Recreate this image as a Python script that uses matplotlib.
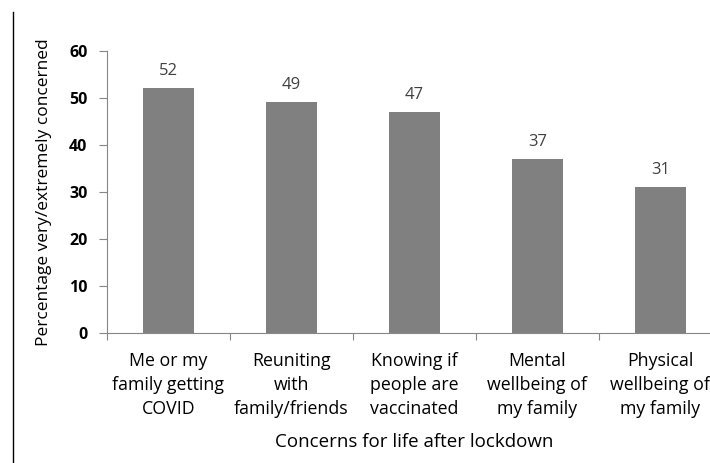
import numpy as np
import matplotlib.pyplot as plt
from matplotlib.lines import Line2D

plt.rcParams['font.family'] = ['Open Sans', 'DejaVu Sans']

# concerns and the share very/extremely concerned
categories = ["Me or my\nfamily getting\nCOVID",
              "Reuniting\nwith\nfamily/friends",
              "Knowing if\npeople are\nvaccinated",
              "Mental\nwellbeing of\nmy family",
              "Physical\nwellbeing of\nmy family"]
values = [52, 49, 47, 37, 31]
yticks = [0, 10, 20, 30, 40, 50, 60]

fig = plt.figure(figsize=(7.1, 4.63), dpi=100)
ax = fig.add_axes([0.1507, 0.2808, 0.866, 0.6097])

x = np.arange(len(values))
ax.bar(x, values, width=0.41, color="#808080", zorder=2)

for xi, v in zip(x, values):
    ax.annotate(str(v), (xi, v), xytext=(0, 6.5), textcoords="offset points",
                ha="center", va="bottom", fontsize=12, color="#404040")

ax.set_xlim(-0.5, len(values) - 0.5)
ax.set_ylim(0, 60)
ax.set_yticks(yticks)
ax.set_yticklabels([str(t) for t in yticks], fontweight="bold", fontsize=11.5)

# boundary ticks without labels, labels sit on the bar centres
ax.set_xticks(np.arange(len(values) + 1) - 0.5)
ax.set_xticklabels([])
ax.set_xticks(x, minor=True)
ax.set_xticklabels(categories, minor=True, fontsize=12.8, linespacing=1.42,
                   color="black")
ax.tick_params(axis="x", which="minor", length=0, pad=14)
ax.tick_params(axis="x", which="major", length=5, color="#868686")
ax.tick_params(axis="y", length=6, color="#868686", pad=8)

for s in ["top", "right"]:
    ax.spines[s].set_visible(False)
for s in ["left", "bottom"]:
    ax.spines[s].set_color("#868686")

ax.set_xlabel("Concerns for life after lockdown", fontsize=13.5, labelpad=11)
ax.set_ylabel("Percentage very/extremely concerned", fontsize=12.5, labelpad=12)

# thin frame line on the left edge
fig.add_artist(Line2D([13 / 710, 13 / 710], [0, 1 - 12 / 463], color="black",
                      linewidth=1, transform=fig.transFigure))

fig.savefig("out.png", dpi=100)
